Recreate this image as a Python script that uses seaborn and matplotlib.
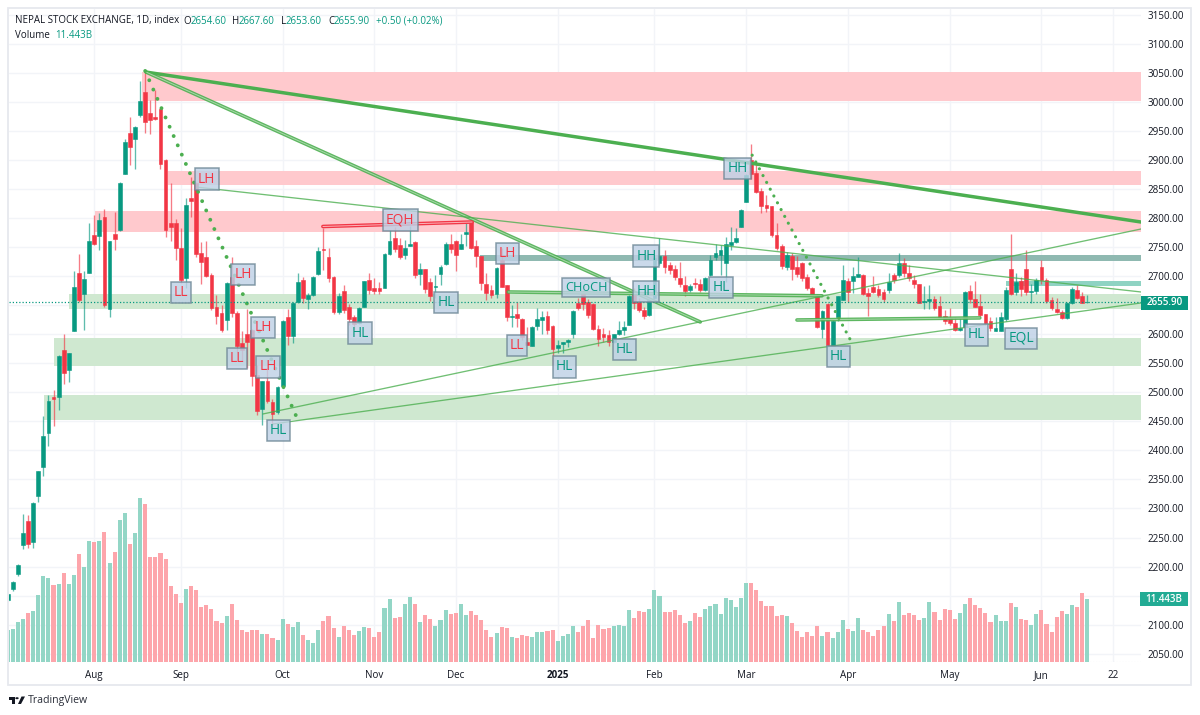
import pandas as pd
import matplotlib.pyplot as plt
from matplotlib.patches import Rectangle, Polygon, Circle
import seaborn as sns

# === DATA ===
opens = [2142, 2161, 2187, 2238, 2278, 2242, 2321, 2372, 2430, 2491,
         2492, 2573, 2538, 2606, 2705, 2669, 2706, 2771, 2769, 2802,
         2643, 2772, 2779, 2876, 2947, 2936, 2977, 3017, 2981, 2974,
         2987, 2900, 2791, 2791, 2749, 2696, 2834, 2860, 2739, 2732,
         2701, 2647, 2636, 2624, 2698, 2636, 2584, 2600, 2608, 2529,
         2471, 2519, 2484, 2466, 2510, 2630, 2597, 2655, 2693, 2660,
         2667, 2703, 2747, 2733, 2698, 2639, 2674, 2646, 2630, 2620,
         2647, 2693, 2679, 2679, 2680, 2738, 2765, 2753, 2737, 2752,
         2758, 2703, 2712, 2690, 2681, 2704, 2720, 2756, 2761, 2747,
         2772, 2795, 2752, 2734, 2687, 2676, 2669, 2728, 2684, 2630,
         2635, 2626, 2587, 2580, 2614, 2624, 2631, 2614, 2576, 2583,
         2586, 2600, 2654, 2670, 2656, 2652, 2609, 2601, 2599, 2587,
         2600, 2608, 2616, 2670, 2656, 2642, 2633, 2662, 2722, 2735,
         2719, 2713, 2697, 2685, 2676, 2688, 2686, 2676, 2701, 2733,
         2736, 2723, 2753, 2758, 2785, 2828, 2900, 2877, 2846, 2823,
         2820, 2770, 2752, 2716, 2734, 2716, 2723, 2699, 2680, 2668,
         2609, 2652, 2580, 2630, 2659, 2691, 2692, 2699, 2702, 2671,
         2681, 2677, 2672, 2676, 2702, 2701, 2723, 2705, 2694, 2686,
         2656, 2657, 2660, 2648, 2631, 2627, 2619, 2607, 2612, 2674,
         2660, 2649, 2634, 2622, 2606, 2606, 2626, 2712, 2672, 2692,
         2712, 2673, 2674, 2716, 2694, 2659, 2643, 2638, 2627, 2653,
         2676, 2666, 2654.6]
highs = [2152, 2176, 2205, 2290, 2288, 2311, 2365, 2459, 2495, 2504,
         2564, 2600, 2568, 2709, 2738, 2709, 2791, 2805, 2809, 2815,
         2761, 2811, 2862, 2936, 2973, 2958, 3036, 3055, 3003, 3020,
         2990, 2901, 2861, 2799, 2783, 2834, 2870, 2862, 2759, 2760,
         2706, 2667, 2650, 2689, 2733, 2640, 2605, 2643, 2609, 2547,
         2520, 2542, 2488, 2510, 2624, 2643, 2655, 2706, 2698, 2670,
         2700, 2750, 2782, 2748, 2700, 2670, 2685, 2652, 2633, 2646,
         2692, 2705, 2697, 2690, 2739, 2780, 2785, 2765, 2762, 2786,
         2760, 2723, 2713, 2697, 2702, 2719, 2758, 2772, 2762, 2773,
         2792, 2798, 2762, 2735, 2705, 2685, 2715, 2748, 2685, 2650,
         2656, 2627, 2612, 2614, 2645, 2640, 2640, 2615, 2590, 2587,
         2591, 2641, 2662, 2676, 2660, 2653, 2615, 2611, 2608, 2601,
         2623, 2622, 2668, 2679, 2662, 2647, 2660, 2732, 2765, 2745,
         2725, 2719, 2725, 2700, 2686, 2696, 2695, 2698, 2737, 2756,
         2754, 2768, 2784, 2782, 2815, 2876, 2928, 2894, 2851, 2840,
         2821, 2791, 2756, 2742, 2739, 2734, 2724, 2704, 2681, 2669,
         2641, 2653, 2624, 2666, 2719, 2697, 2716, 2733, 2703, 2680,
         2700, 2684, 2678, 2705, 2706, 2739, 2731, 2719, 2702, 2687,
         2683, 2685, 2665, 2665, 2641, 2645, 2630, 2628, 2674, 2685,
         2692, 2669, 2635, 2630, 2630, 2639, 2681, 2772, 2705, 2699,
         2745, 2686, 2696, 2727, 2696, 2664, 2662, 2642, 2655, 2682,
         2685, 2673, 2667.6]
lows = [2140, 2158, 2184, 2230, 2232, 2232, 2312, 2356, 2408, 2442,
        2470, 2514, 2518, 2605, 2655, 2608, 2705, 2753, 2744, 2646,
        2630, 2745, 2778, 2875, 2891, 2885, 2973, 2946, 2944, 2969,
        2885, 2768, 2760, 2728, 2688, 2679, 2802, 2733, 2687, 2698,
        2642, 2617, 2604, 2607, 2630, 2570, 2553, 2541, 2510, 2461,
        2444, 2482, 2444, 2463, 2509, 2581, 2585, 2654, 2653, 2643,
        2665, 2702, 2710, 2689, 2635, 2634, 2637, 2616, 2608, 2618,
        2646, 2669, 2669, 2669, 2679, 2737, 2741, 2729, 2729, 2751,
        2696, 2685, 2670, 2657, 2662, 2684, 2719, 2739, 2708, 2746,
        2752, 2747, 2716, 2676, 2659, 2662, 2663, 2681, 2623, 2612,
        2613, 2590, 2581, 2579, 2607, 2600, 2600, 2547, 2567, 2567,
        2578, 2593, 2642, 2641, 2627, 2608, 2580, 2587, 2579, 2584,
        2599, 2599, 2615, 2644, 2638, 2626, 2632, 2660, 2719, 2705,
        2704, 2693, 2682, 2666, 2673, 2679, 2673, 2675, 2700, 2728,
        2702, 2690, 2745, 2757, 2784, 2827, 2867, 2843, 2809, 2811,
        2767, 2745, 2712, 2711, 2693, 2698, 2691, 2676, 2667, 2610,
        2593, 2578, 2579, 2623, 2658, 2656, 2670, 2698, 2667, 2631,
        2670, 2664, 2656, 2670, 2688, 2699, 2698, 2692, 2680, 2653,
        2643, 2643, 2642, 2627, 2617, 2616, 2606, 2606, 2611, 2653,
        2646, 2630, 2616, 2606, 2605, 2605, 2622, 2668, 2668, 2666,
        2667, 2654, 2669, 2687, 2654, 2641, 2636, 2626, 2626, 2652,
        2660, 2653, 2653.6]
closes = [2152, 2174, 2203, 2257, 2239, 2310, 2364, 2424, 2485, 2488,
          2563, 2534, 2567, 2681, 2659, 2695, 2760, 2755, 2796, 2650,
          2760, 2764, 2861, 2930, 2922, 2957, 3001, 2965, 2968, 2971,
          2893, 2780, 2785, 2748, 2694, 2822, 2830, 2738, 2725, 2700,
          2645, 2632, 2608, 2688, 2636, 2580, 2573, 2587, 2528, 2468,
          2519, 2485, 2463, 2509, 2623, 2597, 2654, 2689, 2663, 2667,
          2698, 2743, 2744, 2696, 2639, 2666, 2642, 2626, 2617, 2645,
          2691, 2676, 2674, 2674, 2738, 2760, 2747, 2733, 2748, 2755,
          2702, 2712, 2678, 2665, 2683, 2716, 2755, 2747, 2736, 2756,
          2775, 2749, 2734, 2688, 2671, 2667, 2714, 2682, 2629, 2632,
          2627, 2595, 2582, 2613, 2626, 2630, 2608, 2575, 2582, 2586,
          2590, 2640, 2645, 2652, 2633, 2609, 2592, 2595, 2587, 2600,
          2608, 2613, 2666, 2653, 2642, 2632, 2659, 2731, 2735, 2715,
          2710, 2698, 2686, 2675, 2683, 2686, 2676, 2697, 2728, 2739,
          2744, 2755, 2758, 2765, 2814, 2874, 2876, 2845, 2820, 2817,
          2771, 2749, 2718, 2736, 2713, 2703, 2696, 2680, 2668, 2613,
          2640, 2581, 2623, 2665, 2693, 2673, 2700, 2703, 2669, 2666,
          2673, 2667, 2660, 2689, 2694, 2722, 2705, 2697, 2686, 2654,
          2657, 2660, 2645, 2630, 2623, 2619, 2608, 2610, 2673, 2660,
          2647, 2633, 2619, 2610, 2610, 2629, 2676, 2669, 2689, 2678,
          2673, 2674, 2693, 2693, 2657, 2645, 2639, 2628, 2654, 2678,
          2663, 2654, 2655.9]
volumes = [5.66, 5.97, 7.19, 7.80, 8.89, 9.26, 12.18, 15.59, 15.29, 14.01,
           14.19, 16.20, 14.19, 15.83, 19.61, 17.30, 21.92, 21.80, 21.92, 23.63,
           18.03, 20.04, 25.82, 27.16, 21.50, 23.51, 29.84, 28.74, 19.00, 19.12,
           19.79, 18.70, 13.82, 12.36, 10.66, 13.28, 13.70, 13.09, 9.87, 10.29,
           9.56, 7.37, 7.06, 8.28, 10.47, 7.55, 5.79, 5.36, 5.79, 5.79,
           5.05, 5.05, 4.26, 3.96, 7.80, 6.88, 6.27, 7.19, 4.75, 3.96,
           3.35, 5.79, 7.37, 8.28, 6.15, 4.45, 6.46, 5.66, 4.87, 5.48,
           6.27, 6.09, 4.45, 5.36, 9.80, 11.39, 7.98, 8.10, 10.41, 11.75,
           10.54, 7.13, 8.40, 7.73, 6.52, 7.55, 9.32, 8.65, 8.83, 10.54,
           8.53, 9.20, 8.40, 7.55, 5.72, 4.45, 5.12, 6.21, 6.09, 4.45,
           4.32, 4.81, 4.63, 4.45, 5.30, 5.42, 5.60, 5.72, 3.71, 4.63,
           4.93, 6.39, 5.42, 6.52, 7.49, 4.20, 6.64, 5.91, 6.09, 6.39,
           6.64, 6.39, 9.32, 7.92, 9.20, 9.01, 9.50, 13.03, 11.94, 9.01,
           9.01, 9.32, 8.53, 7.00, 7.31, 8.83, 8.10, 9.50, 10.11, 10.54,
           8.71, 11.63, 11.21, 9.93, 11.51, 14.25, 14.25, 13.03, 11.02, 10.11,
           10.11, 8.34, 8.53, 8.34, 7.00, 5.60, 4.51, 5.30, 4.63, 6.39,
           4.63, 5.30, 4.32, 5.30, 7.61, 5.91, 5.54, 7.92, 5.72, 5.42,
           4.63, 5.72, 6.39, 8.71, 7.31, 10.84, 8.53, 8.83, 8.40, 7.61,
           7.92, 10.84, 9.01, 7.61, 9.50, 9.32, 7.73, 8.83, 10.54, 11.63,
           10.23, 9.80, 8.83, 7.13, 8.53, 7.43, 7.43, 10.72, 9.93, 7.73,
           7.61, 6.64, 8.71, 9.32, 6.82, 5.30, 8.10, 9.20, 8.71, 10.23,
           9.93, 12.55, 11.443]

month_bars = [17, 34, 54, 72, 88, 108, 127, 145, 165, 185, 203, 217]
month_labels = ["Aug", "Sep", "Oct", "Nov", "Dec", "2025", "Feb", "Mar", "Apr", "May", "Jun", "22"]
price_ticks = list(range(2050, 3151, 50))
# these two tick labels sit behind the price tags in the reference
hidden_ticks = [2150, 2650]

# zones: first bar, top price, bottom price
red_zones = [(26.3, 3051, 3002), (31.5, 2881, 2857), (17.1, 2812, 2775)]
green_zones = [(12, 2669, 2643), (9.1, 2594, 2545), (7.1, 2495, 2452)]
dark_band = (92.8, 2736, 2726)
light_band = (196, 2691.5, 2683)

# trend lines: start bar, start price, end bar, end price
thick_line = (27.2, 3051, 222.56, 2793)
double_lines = [(27.2, 3051, 136, 2621), (98.3, 2672.6, 159.9, 2666), (155, 2624.4, 190.9, 2628)]
thin_lines = [(37.2, 2853, 222.56, 2672.6), (50.1, 2462.6, 222.56, 2781), (52.1, 2445.4, 222.56, 2653.7)]
eqh_line = (61.9, 2785.3, 91.2, 2793)
dotted_lines = [(27, 3053, 56.8, 2456), (146.2, 2908, 165.8, 2585)]

# structure labels
label_text = ["LH", "LL", "LH", "LH", "LL", "LH", "HL", "HL", "EQH", "HL", "LH",
              "CHoCH", "LL", "HL", "HL", "HH", "HH", "HL", "HH", "HL", "HL", "EQL"]
label_bar = [39.1, 34, 46.2, 50.1, 45, 51.1, 53.2, 69.2, 77.1, 86.1, 98.2,
             113.6, 100, 109.3, 121.1, 125.4, 125.4, 140.1, 143.3, 163.2, 190.2, 199]
label_price = [2867, 2671, 2702, 2611, 2558, 2543.5, 2435, 2602, 2796.5, 2654, 2739,
               2680, 2580, 2543.5, 2574, 2673.5, 2734.5, 2679.5, 2885, 2561, 2598.6, 2593]

# === STYLE ===
UP = "#089981"
DOWN = "#f23645"
UP_VOL = "#93d6c6"
DOWN_VOL = "#fda5ab"
LINE_GREEN = "#4caf50"
INK = "#131722"
GRID = "#f2f4f8"
W, H = 1200, 715

sns.set_theme(style="white")
plt.rcParams["font.family"] = ["Open Sans", "DejaVu Sans"]

df = pd.DataFrame({"bar": range(len(opens)), "open": opens, "high": highs,
                   "low": lows, "close": closes, "volume": volumes})
df["dir"] = ["up" if c >= o else "down" for o, c in zip(df["open"], df["close"])]

fig = plt.figure(figsize=(W / 100, H / 100), dpi=100, facecolor="white")
ax = fig.add_axes([9 / W, 1 - 662 / H, 1132 / W, 653 / H])
ax_vol = ax.twinx()

XLIM = (0.255, 222.56)
YLIM = (2035.8, 3159.6)

# === VOLUME ===
sns.barplot(data=df, x="bar", y="volume", hue="dir", palette={"up": UP_VOL, "down": DOWN_VOL},
            native_scale=True, dodge=False, width=0.8, saturation=1, errorbar=None,
            linewidth=0, legend=False, ax=ax_vol)
ax_vol.set_ylim(-0.09, 119.1)
ax_vol.set_yticks([])
ax_vol.set_xlabel("")
ax_vol.set_ylabel("")

# === ZONES ===
for first, top, bottom in red_zones:
    ax.add_patch(Rectangle((first, bottom), XLIM[1] - first, top - bottom, fc="#ffc9cd", ec="none", zorder=1))
for first, top, bottom in green_zones:
    ax.add_patch(Rectangle((first, bottom), XLIM[1] - first, top - bottom, fc="#cfe8d0", ec="none", zorder=1))
ax.add_patch(Rectangle((dark_band[0], dark_band[2]), XLIM[1] - dark_band[0], dark_band[1] - dark_band[2],
                       fc="#8fb9b1", ec="none", zorder=2))
ax.add_patch(Rectangle((light_band[0], light_band[2]), XLIM[1] - light_band[0], light_band[1] - light_band[2],
                       fc="#8fd3c3", ec="none", zorder=2))

# === CANDLES ===
colors = [UP if d == "up" else DOWN for d in df["dir"]]
ax.vlines(df["bar"], df["low"], df["high"], colors=colors, lw=0.95, alpha=0.65, zorder=3)
ax.bar(df["bar"], (df["close"] - df["open"]).abs(), bottom=df[["open", "close"]].min(axis=1),
       width=0.74, color=colors, edgecolor=colors, linewidth=0.4, zorder=4)

# === TREND LINES ===
ax.plot(thick_line[0::2], thick_line[1::2], color=LINE_GREEN, lw=2.5, solid_capstyle="round", zorder=5)
for x0, p0, x1, p1 in double_lines:
    ax.plot([x0, x1], [p0, p1], color=LINE_GREEN, lw=2.6, alpha=0.9, zorder=5)
    ax.plot([x0, x1], [p0, p1], color="#a8d8aa", lw=0.7, zorder=5)
ax.plot(eqh_line[0::2], eqh_line[1::2], color=DOWN, lw=2.6, zorder=5)
ax.plot(eqh_line[0::2], eqh_line[1::2], color="#fbb4ba", lw=0.7, zorder=5)
for x0, p0, x1, p1 in thin_lines:
    ax.plot([x0, x1], [p0, p1], color=LINE_GREEN, lw=0.95, alpha=0.8, zorder=5)
ax.plot(dotted_lines[0][0::2], dotted_lines[0][1::2], color=LINE_GREEN, lw=2.8,
        ls=(0, (0.01, 2.6)), dash_capstyle="round", zorder=5)
ax.plot(dotted_lines[1][0::2], dotted_lines[1][1::2], color=LINE_GREEN, lw=2.3,
        ls=(0, (0.01, 2.4)), dash_capstyle="round", zorder=5)

# last price
ax.axhline(closes[-1], color=UP, lw=0.9, ls=(0, (1, 1.6)), zorder=5)
ax_vol.axhline(0, color="#d3d7df", lw=0.8, ls=":", zorder=0)

# === LABELS ===
for txt, b, p in zip(label_text, label_bar, label_price):
    c = DOWN if txt in ("LH", "LL", "EQH") else UP
    size = 9.2 if txt == "CHoCH" else 9.9
    ax.text(b, p, txt, color=c, fontsize=size, ha="center", va="center", zorder=6,
            bbox=dict(boxstyle="square,pad=0.22", fc=(0.75, 0.82, 0.9, 0.82), ec=(0.42, 0.52, 0.58, 0.8), lw=1.1))

# === AXES ===
ax.set_xlim(*XLIM)
ax_vol.set_xlim(*XLIM)
ax.set_ylim(*YLIM)
ax.yaxis.tick_right()
ax.set_yticks(price_ticks)
ax.set_yticklabels(["" if p in hidden_ticks else f"{p:.2f}" for p in price_ticks], color=INK, fontsize=7.1)
ax.set_xticks(month_bars)
ax.set_xticklabels(month_labels, color=INK, fontsize=7.1)
ax.get_xticklabels()[5].set_fontweight("bold")
ax.tick_params(axis="y", length=0, pad=5)
ax.tick_params(axis="x", length=0, pad=5.5)
ax_vol.tick_params(axis="both", length=0, labelbottom=False, labelright=False)
ax.grid(True, color=GRID, lw=1)
ax.set_axisbelow(True)
for a in (ax, ax_vol):
    for s in a.spines.values():
        s.set_visible(False)


def fx(x):
    return x / W


def fy(y):
    return 1 - y / H


# outer frame
fig.add_artist(Rectangle((fx(8), fy(685)), 1183 / W, 677 / H, fill=False, ec="#e6e8ee", lw=1.3,
                         transform=fig.transFigure))

# header text
header = [(15, "NEPAL STOCK EXCHANGE, 1D, index", INK), (183, "O", INK), (191, "2654.60", UP),
          (232, "H", INK), (239, "2667.60", UP), (281, "L", INK), (286, "2653.60", UP),
          (328, "C", INK), (334, "2655.90", UP), (376, "+0.50 (+0.02%)", UP)]
for x, txt, c in header:
    fig.text(fx(x), fy(21), txt, color=c, fontsize=7.0, va="center", ha="left")
fig.text(fx(15), fy(35.5), "Volume", color=INK, fontsize=7.0, va="center", ha="left")
fig.text(fx(55), fy(35.5), "11.443B", color=UP, fontsize=7.0, va="center", ha="left")

# price tags
fig.add_artist(Rectangle((fx(1141), fy(310)), 47 / W, 14 / H, fc=UP, ec="none", transform=fig.transFigure))
fig.text(fx(1164.5), fy(303), "2655.90", color="white", fontsize=7.1, fontweight="semibold", ha="center", va="center")
fig.add_artist(Rectangle((fx(1140), fy(606)), 48 / W, 14.5 / H, fc="#22ab94", ec="none", transform=fig.transFigure))
fig.text(fx(1164), fy(599), "11.443B", color="white", fontsize=7.1, fontweight="semibold", ha="center", va="center")

# TradingView mark
logo = "#131722"
fig.add_artist(Rectangle((fx(8.5), fy(700)), 6 / W, 3.5 / H, fc=logo, ec="none", transform=fig.transFigure))
fig.add_artist(Rectangle((fx(11.5), fy(704)), 3 / W, 5 / H, fc=logo, ec="none", transform=fig.transFigure))
fig.add_artist(Polygon([(fx(18), fy(704)), (fx(21), fy(704)), (fx(25), fy(696.5)), (fx(21.5), fy(696.5))],
                       fc=logo, ec="none", transform=fig.transFigure))
fig.add_artist(Circle((fx(17), fy(698.2)), 1.7 / W, fc=logo, ec="none", transform=fig.transFigure))
fig.text(fx(28), fy(700), "TradingView", color="#2a2e39", fontsize=7.6, va="center", ha="left")

fig.savefig("out.png", dpi=100)
